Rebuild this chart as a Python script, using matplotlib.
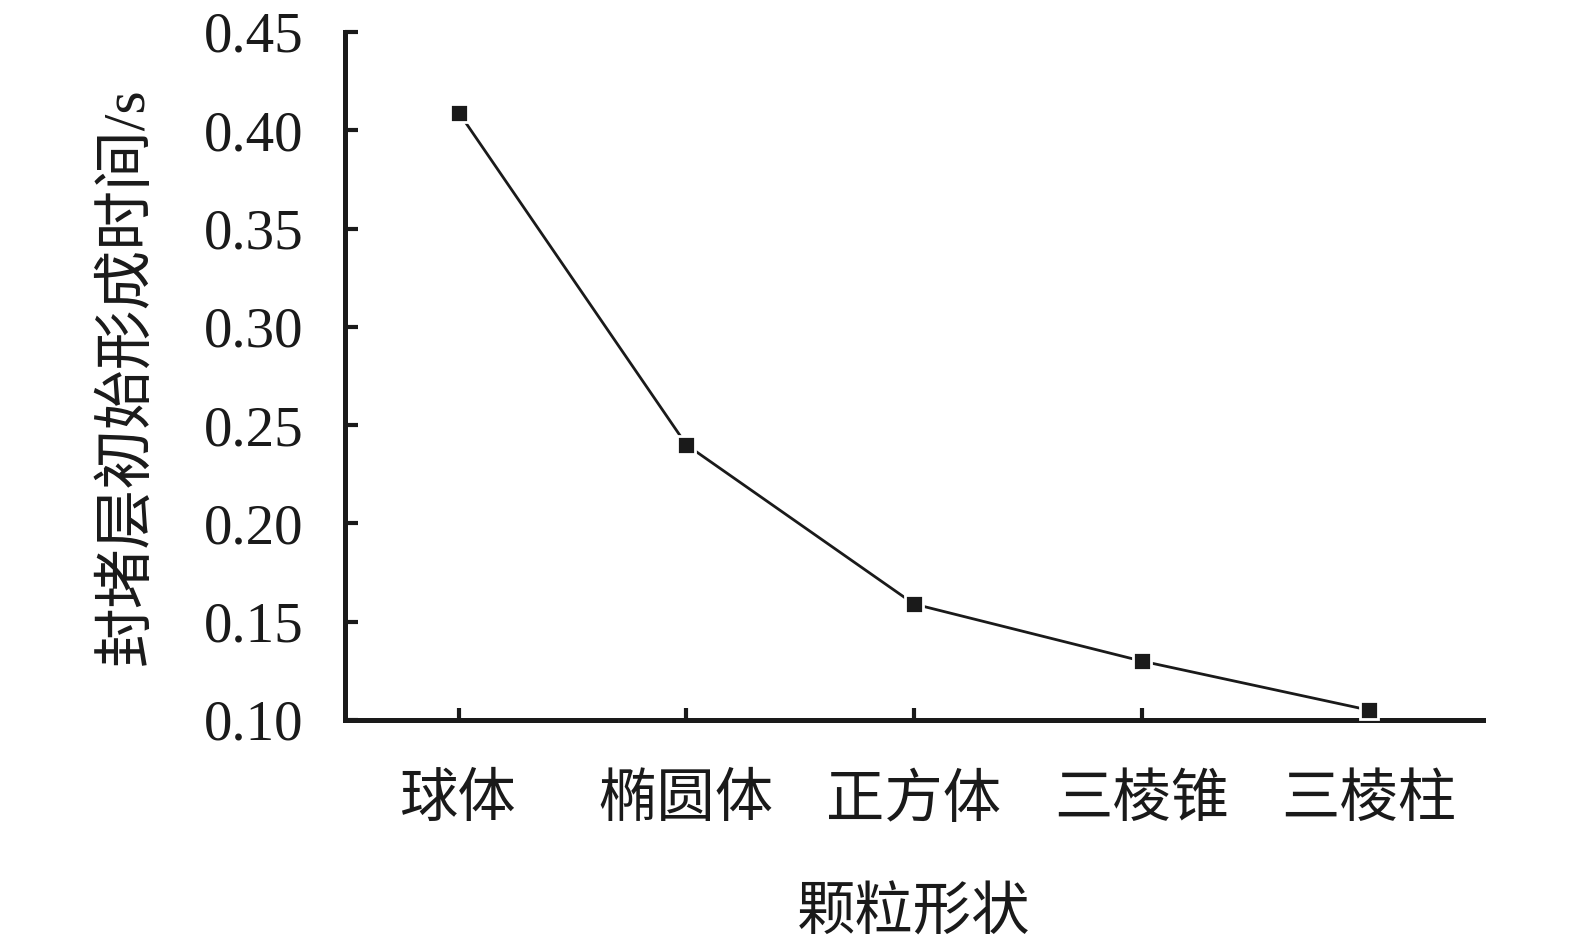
import matplotlib
matplotlib.use("Agg")
import matplotlib.pyplot as plt

shapes = ["球体", "椭圆体", "正方体", "三棱锥", "三棱柱"]
times = [0.409, 0.240, 0.159, 0.130, 0.105]
yticks = [0.10, 0.15, 0.20, 0.25, 0.30, 0.35, 0.40, 0.45]

plt.rcParams['font.family'] = ['Liberation Serif', 'Noto Sans CJK SC']

fig = plt.figure(figsize=(15.75, 9.41), dpi=100)
ax = fig.add_axes([345 / 1575, 1 - 720 / 941, (1483 - 345) / 1575, (720 - 32) / 941])

x = list(range(len(shapes)))
ax.plot(x, times, color="#1a1a1a", lw=2.0, marker="s", ms=13,
        mfc="#1a1a1a", mec="white", mew=2.0, clip_on=False, zorder=3)

ax.set_xlim(-0.5, len(shapes) - 0.5)
ax.set_ylim(0.10, 0.45)
ax.set_xticks(x)
ax.set_xticklabels(shapes)
ax.set_yticks(yticks)
ax.set_yticklabels([f"{v:.2f}" for v in yticks])

for s in ("top", "right"):
    ax.spines[s].set_visible(False)
for s in ("left", "bottom"):
    ax.spines[s].set_linewidth(3.6)
    ax.spines[s].set_color("#1a1a1a")

ax.tick_params(axis="both", direction="in", length=9, width=3, color="#1a1a1a",
               labelsize=41, labelcolor="#1a1a1a")
ax.tick_params(axis="x", pad=39, labelsize=42)
ax.tick_params(axis="y", pad=30)

ax.set_xlabel("颗粒形状", fontsize=42, color="#1a1a1a", labelpad=42)
ax.set_ylabel("封堵层初始形成时间/s", fontsize=43, color="#1a1a1a", labelpad=35)

fig.savefig("out.png", dpi=100)
